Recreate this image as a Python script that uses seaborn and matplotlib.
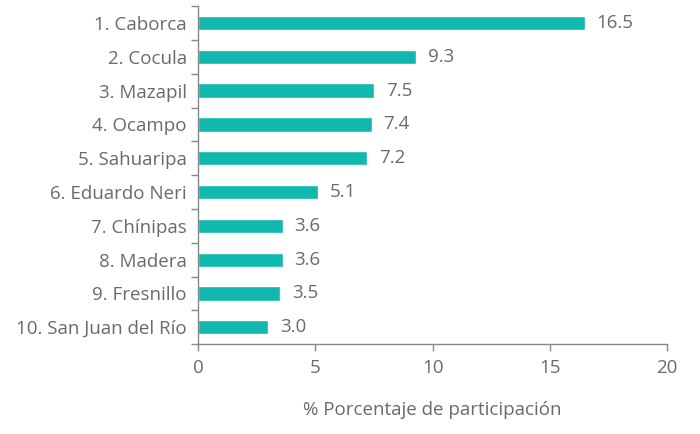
import numpy as np
import pandas as pd
import matplotlib
matplotlib.use("Agg")
import matplotlib.pyplot as plt
import seaborn as sns

municipios = [
    "1. Caborca", "2. Cocula", "3. Mazapil", "4. Ocampo", "5. Sahuaripa",
    "6. Eduardo Neri", "7. Chínipas", "8. Madera", "9. Fresnillo",
    "10. San Juan del Río",
]
participacion = [16.5, 9.3, 7.5, 7.4, 7.2, 5.1, 3.6, 3.6, 3.5, 3.0]
xticks = [0, 5, 10, 15, 20]

df = pd.DataFrame({"municipio": municipios, "pct": participacion})

sns.set_style("white")
plt.rcParams["font.family"] = ["Open Sans", "DejaVu Sans"]

txt = "#6a6a6a"
teal = "#10b8ad"

fig = plt.figure(figsize=(7, 4.34), dpi=100)
ax = fig.add_axes([0.283, 0.207, 0.670, 0.779])

sns.barplot(data=df, x="pct", y="municipio", color=teal, width=0.42,
            saturation=1, ax=ax)

for i, v in enumerate(participacion):
    ax.text(v + 0.5, i, f"{v:.1f}", va="center", ha="left",
            fontsize=13.5, color=txt)

ax.set_xlim(0, 20)
ax.set_ylim(len(municipios) - 0.5, -0.5)
ax.set_xticks(xticks)
ax.set_xticklabels([str(t) for t in xticks])
ax.set_yticks(np.arange(len(municipios)))
ax.set_yticklabels(municipios)
ax.set_yticks(np.arange(len(municipios) + 1) - 0.5, minor=True)

ax.tick_params(axis="y", which="major", left=False, length=0, pad=8,
               labelsize=13.5, labelcolor=txt)
ax.tick_params(axis="y", which="minor", left=True, length=5, width=1,
               color="#888888")
ax.tick_params(axis="x", bottom=True, length=5, width=1, color="#888888",
               pad=6, labelsize=13.5, labelcolor=txt)

ax.set_ylabel("")
ax.set_xlabel("% Porcentaje de participación", fontsize=13.5, color=txt,
              labelpad=17)

for s in ["top", "right"]:
    ax.spines[s].set_visible(False)
for s in ["left", "bottom"]:
    ax.spines[s].set_color("#888888")
    ax.spines[s].set_linewidth(1)

fig.savefig("out.png", dpi=100, facecolor="white")
